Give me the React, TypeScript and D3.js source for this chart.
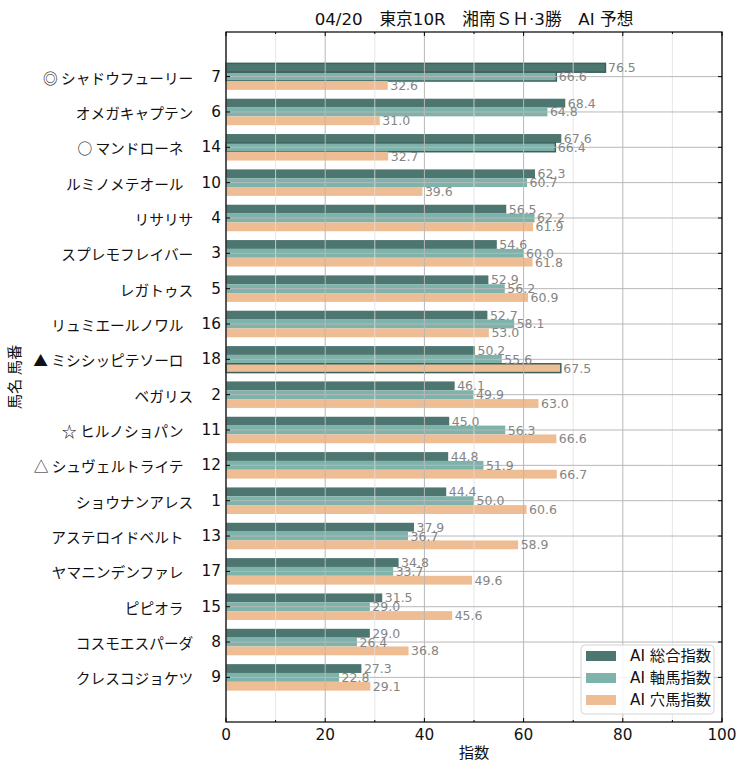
import React from "react";
import * as d3 from "d3";

const names = [
  "◎ シャドウフューリー", "オメガキャプテン", "○ マンドローネ", "ルミノメテオール", "リサリサ",
  "スプレモフレイバー", "レガトゥス", "リュミエールノワル", "▲ ミシシッピテソーロ", "ベガリス",
  "☆ ヒルノショパン", "△ シュヴェルトライテ", "ショウナンアレス", "アステロイドベルト",
  "ヤマニンデンファレ", "ピピオラ", "コスモエスパーダ", "クレスコジョケツ",
];
const horseNums = [7, 6, 14, 10, 4, 3, 5, 16, 18, 2, 11, 12, 1, 13, 17, 15, 8, 9];
const totalIdx = [76.5, 68.4, 67.6, 62.3, 56.5, 54.6, 52.9, 52.7, 50.2, 46.1, 45.0, 44.8, 44.4, 37.9, 34.8, 31.5, 29.0, 27.3];
const jikuIdx = [66.6, 64.8, 66.4, 60.7, 62.2, 60.0, 56.2, 58.1, 55.6, 49.9, 56.3, 51.9, 50.0, 36.7, 33.7, 29.0, 26.4, 22.8];
const anaIdx = [32.6, 31.0, 32.7, 39.6, 61.9, 61.8, 60.9, 53.0, 67.5, 63.0, 66.6, 66.7, 60.6, 58.9, 49.6, 45.6, 36.8, 29.1];
const totalHi = [true, false, false, false, false, false, false, false, false, false, false, false, false, false, false, false, false, false];
const jikuHi = [true, false, true, false, false, false, false, false, false, false, false, false, false, false, false, false, false, false];
const anaHi = [false, false, false, false, false, false, false, false, true, false, false, false, false, false, false, false, false, false];
const seriesLabels = ["AI 総合指数", "AI 軸馬指数", "AI 穴馬指数"];
const xTicks = [0, 20, 40, 60, 80, 100];
const xMinor = [10, 30, 50, 70, 90];
const title = "04/20　東京10R　湘南ＳＨ·3勝　AI 予想";
const xLabel = "指数";
const yLabel = "馬名 馬番";

const colors = ["#4d7671", "#7eb3ab", "#efbd93"];
const FONT = "'DejaVu Sans', 'Noto Sans CJK JP', sans-serif";
const JFONT = "'Noto Sans CJK JP', 'DejaVu Sans', sans-serif";
const FS = 15.3;

export default function App() {
  const W = 745, H = 770;
  const L = 226, R = 722, T = 32, B = 722;
  const n = names.length;
  const x = d3.scaleLinear().domain([0, 100]).range([L, R]);
  const y = d3.scaleLinear().domain([-1.2625, n - 1 + 1.2625]).range([T, B]);
  const bh = y(0.25) - y(0);
  const series = [
    { vals: totalIdx, hi: totalHi, off: -0.25 },
    { vals: jikuIdx, hi: jikuHi, off: 0 },
    { vals: anaIdx, hi: anaHi, off: 0.25 },
  ];

  return (
    <svg width={W} height={H} style={{ position: "absolute", left: 0, top: 0 }} fontFamily={FONT}>
      <rect x={0} y={0} width={W} height={H} fill="#fff" />
      {/* bars */}
      {series.map((s, si) =>
        s.vals.map((v, i) => (
          <rect
            key={`b${si}-${i}`}
            x={x(0)}
            y={y(i + s.off) - bh / 2}
            width={x(v) - x(0)}
            height={bh}
            fill={colors[si]}
            stroke={s.hi[i] ? "#3c625d" : "none"}
            strokeWidth={s.hi[i] ? 1.5 : 0}
          />
        ))
      )}
      {/* grid */}
      {xMinor.map((t) => (
        <line key={`gm${t}`} x1={x(t)} x2={x(t)} y1={T} y2={B} stroke="#e0e0e0" strokeWidth={0.8} />
      ))}
      {xTicks.map((t) => (
        <line key={`gM${t}`} x1={x(t)} x2={x(t)} y1={T} y2={B} stroke="#b8b8b8" strokeWidth={1} />
      ))}
      {names.map((_, i) => (
        <line key={`gy${i}`} x1={L} x2={R} y1={y(i)} y2={y(i)} stroke="#b8b8b8" strokeWidth={1} />
      ))}
      {/* value labels */}
      {series.map((s, si) =>
        s.vals.map((v, i) => (
          <text
            key={`t${si}-${i}`}
            x={x(v) + 2.5}
            y={y(i + s.off)}
            dominantBaseline="central"
            fontSize={12.5}
            fill="#858585"
          >
            {v.toFixed(1)}
          </text>
        ))
      )}
      {/* frame */}
      <rect x={L} y={T} width={R - L} height={B - T} fill="none" stroke="#000" strokeWidth={1.2} />
      {/* ticks */}
      {names.map((_, i) => (
        <g key={`yt${i}`}>
          <line x1={L} x2={L + 4} y1={y(i)} y2={y(i)} stroke="#000" />
          <line x1={R} x2={R - 4} y1={y(i)} y2={y(i)} stroke="#000" />
        </g>
      ))}
      {xTicks.map((t) => (
        <g key={`xt${t}`}>
          <line x1={x(t)} x2={x(t)} y1={B} y2={B - 4} stroke="#000" />
          <line x1={x(t)} x2={x(t)} y1={T} y2={T + 4} stroke="#000" />
        </g>
      ))}
      {xMinor.map((t) => (
        <g key={`xm${t}`}>
          <line x1={x(t)} x2={x(t)} y1={B} y2={B - 2} stroke="#000" />
          <line x1={x(t)} x2={x(t)} y1={T} y2={T + 2} stroke="#000" />
        </g>
      ))}
      {/* y tick labels */}
      {names.map((nm, i) => (
        <text key={`yl${i}`} x={L - 5} y={y(i)} textAnchor="end" dominantBaseline="central" fontSize={FS} fill="#111">
          <tspan fontFamily={JFONT} fontSize={14.7}>{nm}</tspan>
          <tspan dx={18}>{horseNums[i]}</tspan>
        </text>
      ))}
      {/* x tick labels */}
      {xTicks.map((t) => (
        <text key={`xl${t}`} x={x(t)} y={B + 18} textAnchor="middle" fontSize={FS} fill="#111">
          {t}
        </text>
      ))}
      <text x={(L + R) / 2} y={758} textAnchor="middle" fontSize={FS} fill="#111" fontFamily={JFONT}>
        {xLabel}
      </text>
      <text
        transform={`translate(20,${(T + B) / 2}) rotate(-90)`}
        textAnchor="middle"
        fontSize={FS}
        fill="#111"
        fontFamily={JFONT}
      >
        {yLabel}
      </text>
      <text x={(L + R) / 2} y={25} textAnchor="middle" fontSize={16.7} fill="#111">
        {title}
      </text>
      {/* legend */}
      <g>
        <rect x={581} y={645} width={133} height={69} rx={4} fill="#fff" fillOpacity={0.85} stroke="#d4d4d4" />
        {seriesLabels.map((lab, k) => (
          <g key={`lg${k}`}>
            <rect x={586} y={651 + k * 22} width={30} height={10} fill={colors[k]} />
            <text x={630} y={656 + k * 22} dominantBaseline="central" fontSize={FS} fill="#111">
              {lab}
            </text>
          </g>
        ))}
      </g>
    </svg>
  );
}
